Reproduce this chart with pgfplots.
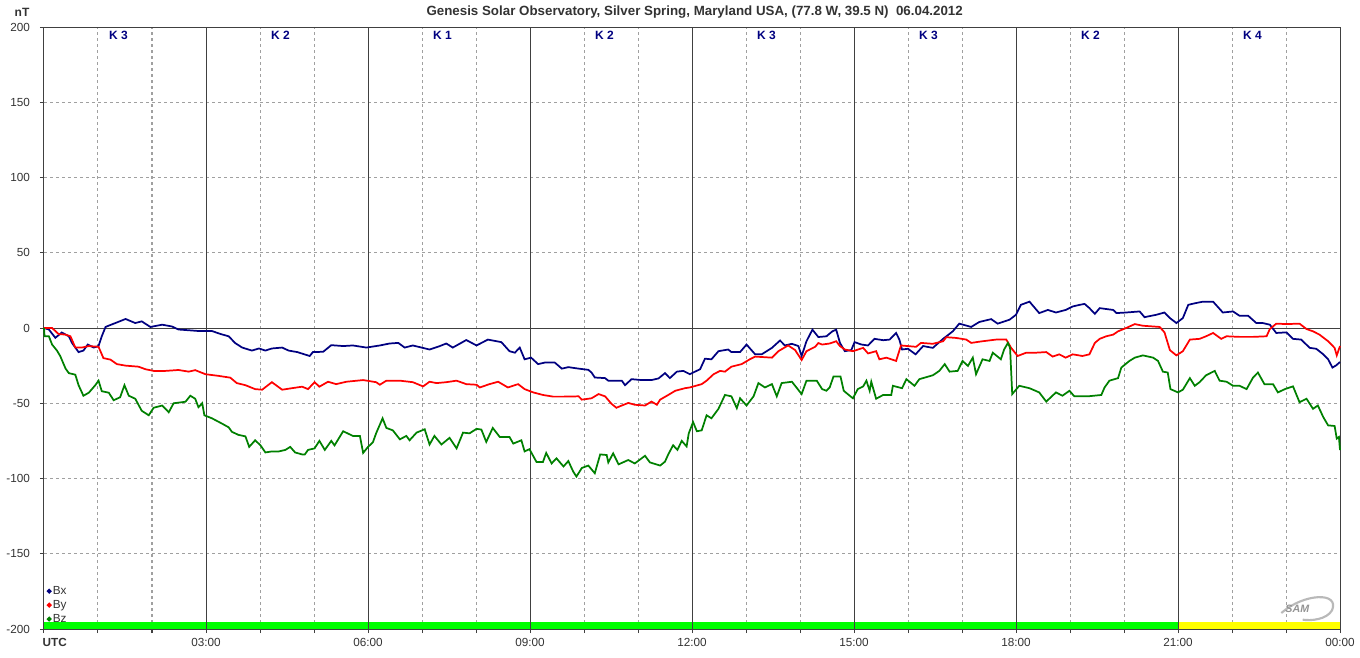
\documentclass[border=0pt]{standalone}
\usepackage{pgfplots}
\pgfplotsset{compat=1.18}
\usepackage{fontspec}
\setmainfont{Liberation Sans}
\definecolor{bxc}{HTML}{000080}
\definecolor{byc}{HTML}{FF0000}
\definecolor{bzc}{HTML}{008000}
\definecolor{gridc}{HTML}{A0A0A0}
\definecolor{axc}{HTML}{404040}
\definecolor{barg}{HTML}{00FF00}
\definecolor{bary}{HTML}{FFFF00}
\begin{document}
\begin{tikzpicture}
\path[use as bounding box] (-33pt,-21pt) rectangle (987pt,471.75pt);
\begin{axis}[
  width=972pt, height=451.5pt, scale only axis,
  xmin=0, xmax=24, ymin=-200, ymax=200,
  axis line style={draw=axc, line width=0.75pt},
  xtick={0,3,...,24},
  xticklabels={\makebox[0pt][l]{\hspace{-1pt}\bfseries UTC},03:00,06:00,09:00,12:00,15:00,18:00,21:00,00:00},
  minor xtick={1,2,4,5,7,8,10,11,13,14,16,17,19,20,22,23},
  ytick={-200,-150,...,200},
  yticklabels={-200,-150,-100,-50,0,50,100,150,200},
  tick align=outside, xtick pos=bottom, ytick pos=left,
  major tick length=3pt, minor tick length=3pt,
  tick style={draw=axc, line width=0.75pt},
  ymajorgrids, xminorgrids,
  major grid style={draw=gridc, line width=0.75pt, dash pattern=on 2.25pt off 2.25pt},
  minor grid style={draw=gridc, line width=0.75pt, dash pattern=on 2.25pt off 2.25pt},
  ticklabel style={font=\fontsize{8.8}{10}\selectfont, text=black!80},
  yticklabel style={xshift=-4pt},
  xticklabel style={yshift=-0.5pt},
  clip=false,
  legend style={at={(0.002,0.0055)}, anchor=south west, draw=none, fill=none,
    font=\fontsize{8.8}{10}\selectfont, row sep=0.9pt, inner sep=0pt,
    nodes={inner sep=1pt, text=black!80}},
  legend cell align=left,
  legend image code/.code={\fill (0.09cm,0cm) circle (1.1pt);},
]
% status bar
\addplot[draw=none, fill=barg, forget plot] coordinates {(0,-200)(0,-195.3)(21,-195.3)(21,-200)} -- cycle;
\addplot[draw=none, fill=bary, forget plot] coordinates {(21,-200)(21,-195.3)(24,-195.3)(24,-200)} -- cycle;
% 3-hour solid lines and zero line
\pgfplotsinvokeforeach{3,6,9,12,15,18,21}{\draw[axc, line width=0.75pt] (axis cs:#1,-200) -- (axis cs:#1,200);}
\draw[axc, line width=0.75pt] (axis cs:0,0) -- (axis cs:24,0);
% K indices
\node[text=bxc, font=\bfseries\fontsize{9}{10}\selectfont] at (axis cs:1.38,194.4) {K 3};
\node[text=bxc, font=\bfseries\fontsize{9}{10}\selectfont] at (axis cs:4.38,194.4) {K 2};
\node[text=bxc, font=\bfseries\fontsize{9}{10}\selectfont] at (axis cs:7.38,194.4) {K 1};
\node[text=bxc, font=\bfseries\fontsize{9}{10}\selectfont] at (axis cs:10.38,194.4) {K 2};
\node[text=bxc, font=\bfseries\fontsize{9}{10}\selectfont] at (axis cs:13.38,194.4) {K 3};
\node[text=bxc, font=\bfseries\fontsize{9}{10}\selectfont] at (axis cs:16.38,194.4) {K 3};
\node[text=bxc, font=\bfseries\fontsize{9}{10}\selectfont] at (axis cs:19.38,194.4) {K 2};
\node[text=bxc, font=\bfseries\fontsize{9}{10}\selectfont] at (axis cs:22.38,194.4) {K 4};
% Bx
\addplot[color=bxc, line width=1.3pt] coordinates {
(0,0)(0.09,-1)(0.21,-6.5)(0.33,-3)(0.46,-5.5)(0.52,-10)(0.64,-16)(0.73,-15)(0.81,-11)(0.92,-13)(1.01,-12)(1.07,-5.5)(1.14,0.7)(1.23,2)(1.35,3.7)(1.51,6)(1.69,3.3)(1.81,4.4)(1.97,0.7)(2.19,2.2)(2.37,1)(2.49,-1)(2.68,-1.5)(2.86,-2)(3.11,-2)(3.27,-4)(3.42,-5.5)(3.54,-10)(3.67,-13)(3.85,-15)(3.98,-13.6)(4.10,-15)(4.22,-13.6)(4.41,-13)(4.53,-15)(4.69,-16)
(4.92,-18.6)(4.98,-16)(5.17,-15.8)(5.32,-11.4)(5.54,-12)(5.72,-11.6)(5.97,-13)(6.22,-11.6)(6.40,-10.3)(6.56,-9.9)(6.68,-13)(6.83,-11.6)(7.14,-14.3)(7.33,-12)(7.45,-10.3)(7.57,-13)(7.82,-8)(8.01,-11.6)(8.22,-7.7)(8.47,-9.4)(8.62,-15.4)(8.72,-16.4)(8.81,-13)(8.90,-20.8)(9.02,-19.7)(9.15,-24)(9.27,-23)(9.46,-23)
(9.59,-27)(9.71,-26)(9.90,-27)(10.08,-27.8)(10.14,-29.6)(10.20,-32.9)(10.39,-33.3)(10.45,-35)(10.70,-35)(10.76,-38)(10.88,-34)(11.07,-34.6)(11.25,-34.6)(11.38,-33.5)(11.50,-30)(11.59,-33.3)(11.72,-29)(11.84,-28.5)(11.96,-30.7)(12.02,-29.6)(12.15,-27.4)(12.24,-20.4)(12.36,-20.8)(12.49,-15.4)(12.67,-14.3)(12.73,-16)(12.89,-16)(13.01,-11)(13.17,-17.5)(13.29,-17.5)(13.48,-13.2)(13.63,-8.3)(13.72,-11.6)(13.85,-10.5)(13.97,-12)(14.03,-18.6)(14.12,-8.8)(14.23,-1.1)(14.34,-6)
(14.49,-5.5)(14.60,-2.2)(14.67,-1.1)(14.74,-9.9)(14.83,-15.4)(14.95,-14.7)(15.01,-9.4)(15.14,-11)(15.26,-11.6)(15.38,-7.2)(15.54,-8.1)(15.66,-7.7)(15.78,-3.3)(15.84,-7.7)(15.89,-14.3)(16.00,-13.8)(16.14,-17.5)(16.28,-12)(16.46,-13.2)(16.65,-7.2)(16.83,-2.2)(16.95,2.9)(17.17,0.7)(17.32,4)(17.54,5.9)(17.66,2.9)(17.88,5.5)(18.00,8.8)(18.09,15.4)(18.25,17.5)(18.43,9.9)(18.59,12)(18.74,10.3)(18.92,12)(19.05,14.3)
(19.18,15.4)(19.27,16)(19.36,13.2)(19.46,9.4)(19.55,13.2)(19.80,12)(19.86,9.9)(20.04,10.3)(20.29,11)(20.38,7.2)(20.60,8.8)(20.75,10.3)(20.85,6.6)(20.97,3.3)(21.09,6.6)(21.19,15.4)(21.31,16.4)(21.46,17.5)(21.65,17.5)(21.83,10.3)(22.02,11)(22.14,8.1)(22.30,8.1)(22.45,3.3)(22.57,3.3)(22.70,2.2)(22.82,-3.3)(23.01,-2.9)(23.13,-7.2)(23.28,-7.7)(23.44,-13.2)(23.56,-13.8)(23.69,-17.5)(23.78,-20.8)(23.86,-26.3)(23.93,-24.8)(24,-22.6)
};
\addlegendentry{Bx}
% By
\addplot[color=byc, line width=1.3pt] coordinates {
(0,0)(0.15,0)(0.27,-4)(0.40,-4.4)(0.49,-5.5)(0.58,-13)(0.70,-13)(0.83,-12)(1.01,-12.5)(1.10,-20)(1.23,-21)(1.35,-24)(1.51,-25)(1.75,-25.7)(1.88,-27.4)(2.03,-28.5)(2.25,-28.5)(2.49,-27.9)(2.68,-29)(2.80,-28)(2.99,-30.7)(3.23,-31.8)(3.45,-33)(3.57,-36.6)(3.73,-38)(3.91,-40.6)(4.04,-41)(4.22,-36)(4.41,-41)(4.59,-40)(4.78,-39)
(4.89,-40.6)(5.01,-36)(5.10,-39)(5.26,-35.7)(5.41,-37.3)(5.60,-35.7)(5.91,-34.6)(6.15,-36)(6.22,-37.7)(6.34,-35)(6.59,-35)(6.83,-36)(7.02,-38.8)(7.14,-35.7)(7.27,-36.6)(7.45,-36)(7.64,-35)(7.82,-37.3)(8.01,-37.7)(8.07,-39.5)(8.25,-37.3)(8.41,-35.7)(8.59,-39.5)(8.78,-37.3)(8.90,-40.6)(9.06,-42.8)(9.24,-44.5)(9.43,-45.6)(9.62,-45.6)
(9.90,-45.4)(9.96,-47.6)(10.14,-46.7)(10.27,-43.9)(10.39,-45.4)(10.51,-50.4)(10.60,-53)(10.70,-51.5)(10.82,-49.8)(10.94,-51)(11.13,-51.5)(11.25,-48.9)(11.35,-51)(11.41,-47.6)(11.56,-44.5)(11.69,-41.7)(11.87,-40)(11.96,-39.5)(12.18,-37.3)(12.27,-35)(12.40,-30.7)(12.52,-28.5)(12.61,-29)(12.73,-25.7)(12.92,-24)(13.07,-20.8)(13.17,-19)(13.48,-19.7)(13.60,-15.4)(13.78,-11.6)(13.91,-14.7)(14.03,-21.3)(14.12,-15.4)(14.28,-12.5)(14.34,-10)(14.41,-11)
(14.55,-10.3)(14.67,-8.8)(14.74,-12)(14.83,-14.3)(14.98,-15.4)(15.17,-13.2)(15.26,-16.9)(15.41,-15.4)(15.47,-20.8)(15.60,-19.7)(15.78,-21.9)(15.87,-11.6)(16.15,-12.5)(16.24,-9.9)(16.46,-10.5)(16.65,-8.8)(16.71,-6.1)(16.89,-6.6)(17.08,-7.7)(17.17,-9.9)(17.38,-8.8)(17.63,-7.7)(17.82,-7.7)(17.91,-13.2)(18.03,-18.6)(18.19,-16.4)(18.37,-16.4)(18.56,-16)(18.68,-19)(18.80,-17.5)(18.92,-19.7)(19.05,-17.5)(19.23,-18.6)
(19.36,-17.5)(19.46,-9.9)(19.55,-7.2)(19.67,-5.5)(19.80,-4.4)(19.89,-2.2)(20.04,0)(20.20,2.6)(20.35,1.5)(20.66,0.7)(20.75,-2.9)(20.85,-14.7)(20.97,-18.2)(21.09,-15.4)(21.22,-7.7)(21.40,-7.2)(21.52,-5.5)(21.65,-3.3)(21.80,-7.2)(21.90,-5.5)(22.14,-5.9)(22.39,-5.9)(22.64,-5.5)(22.70,-0.7)(22.82,2.9)(23.01,2.6)(23.25,2.9)(23.38,-0.7)(23.50,-2.2)(23.62,-4.4)(23.78,-8.8)(23.90,-13.2)(23.94,-18.2)(24,-12)
};
\addlegendentry{By}
% Bz
\addplot[color=bzc, line width=1.3pt] coordinates {
(0,0)(0.01,-5.5)(0.09,-5.5)(0.15,-11)(0.24,-15)(0.30,-18.6)(0.40,-27)(0.46,-30)(0.58,-31)(0.64,-38)(0.73,-45)(0.83,-43)(0.95,-38)(1.01,-35)(1.07,-42)(1.20,-43)(1.29,-48)(1.41,-46)(1.49,-38)(1.57,-45)(1.69,-47)(1.81,-55)(1.94,-58)(2.03,-53)(2.19,-51.5)(2.31,-56)(2.40,-50)(2.62,-49)(2.71,-45)(2.80,-47)(2.86,-52.6)(2.93,-50)(2.97,-58)(3.11,-60)(3.30,-63.6)(3.42,-66)(3.48,-69)(3.60,-71)(3.73,-72)(3.80,-79)(3.91,-74.6)(4.01,-78)(4.10,-82.7)(4.22,-82)(4.35,-82)(4.47,-81)(4.56,-79)(4.65,-82.7)(4.78,-84)
(4.83,-84)(4.89,-81)(5.01,-80)(5.10,-75)(5.20,-81)(5.32,-75)(5.38,-78)(5.54,-68.6)(5.72,-71.7)(5.85,-71.7)(5.91,-83)(6.00,-79)(6.09,-76)(6.15,-70)(6.27,-60)(6.34,-66.4)(6.46,-68)(6.59,-74)(6.71,-71.7)(6.77,-74.6)(6.90,-69.5)(7.05,-67.3)(7.14,-77.4)(7.23,-71.7)(7.36,-77.4)(7.51,-73)(7.64,-80)(7.76,-69.5)(7.88,-70)(8.01,-67)(8.10,-67.5)(8.19,-75.7)(8.31,-66.4)(8.44,-72.4)(8.62,-72.4)(8.69,-76.8)(8.84,-74.6)(8.90,-82)(8.99,-80.5)(9.12,-89)(9.24,-89)(9.30,-83)(9.40,-90)(9.49,-86.6)(9.62,-92)
(9.71,-88.4)(9.80,-95.4)(9.86,-98.7)(9.96,-93)(10.08,-91.4)(10.20,-96.5)(10.30,-84)(10.42,-84.4)(10.45,-89.3)(10.54,-83.3)(10.64,-90.6)(10.82,-87.7)(10.94,-90)(11.13,-84.9)(11.22,-89.3)(11.41,-91.4)(11.50,-88.8)(11.56,-84)(11.65,-77.9)(11.73,-81)(11.81,-75)(11.90,-78.7)(11.94,-70)(12.02,-62.5)(12.09,-68.6)(12.18,-68)(12.27,-58)(12.36,-60)(12.49,-53.7)(12.61,-44.5)(12.73,-45.4)(12.83,-53.3)(12.89,-46.7)(13.01,-51.5)(13.14,-45.4)(13.23,-36.6)(13.35,-39.5)(13.48,-37.3)(13.57,-45.4)(13.66,-36.6)(13.85,-35.7)(14.03,-43.9)(14.12,-35)(14.31,-35)(14.41,-40.6)
(14.49,-41.7)(14.55,-39.5)(14.62,-32.2)(14.75,-32.2)(14.81,-41.7)(14.92,-45)(14.98,-46.7)(15.07,-40.6)(15.17,-38.8)(15.23,-35)(15.29,-41.7)(15.32,-35.7)(15.41,-47)(15.54,-44.5)(15.69,-44.5)(15.72,-38.4)(15.89,-40)(15.97,-34)(16.12,-38.4)(16.21,-34)(16.46,-31.4)(16.58,-28.5)(16.68,-24)(16.77,-29)(16.92,-28.5)(17.01,-21.9)(17.11,-25.2)(17.20,-19.7)(17.26,-30.7)(17.38,-20.8)(17.51,-21.9)(17.57,-16.4)(17.72,-20.8)(17.78,-14.3)(17.85,-9.9)(17.89,-13.2)(17.93,-43.9)(18.06,-38.4)(18.25,-40)(18.43,-42.8)(18.56,-48.9)(18.74,-42.8)(18.86,-45)(18.99,-41.7)(19.08,-45.4)(19.20,-45.4)
(19.33,-45.4)(19.58,-44.5)(19.64,-39.5)(19.73,-35)(19.89,-33.3)(19.95,-26.3)(20.10,-21.9)(20.20,-19.7)(20.35,-18.2)(20.54,-19.7)(20.63,-21.9)(20.72,-29)(20.81,-29.6)(20.86,-40.6)(21.00,-42.8)(21.09,-41)(21.22,-33.3)(21.31,-38.4)(21.40,-36)(21.52,-31.4)(21.68,-28.5)(21.77,-35)(21.90,-35.7)(22.02,-38.4)(22.14,-38.4)(22.27,-40.6)(22.39,-32.9)(22.48,-29.6)(22.60,-37.3)(22.76,-37.3)(22.85,-42.8)(22.98,-40.6)(23.13,-38.8)(23.25,-49.3)(23.38,-47)(23.50,-53.7)(23.59,-51.5)(23.69,-59.2)(23.78,-64.7)(23.90,-65.1)(23.94,-73.5)(23.98,-72.4)(24,-81.1)
};
\addlegendentry{Bz}
\end{axis}
% title and unit
\node[font=\bfseries\fontsize{10}{11}\selectfont, text=black!80] at (488pt,462.4pt) {Genesis Solar Observatory, Silver Spring, Maryland USA, (77.8 W, 39.5 N)\ \ 06.04.2012};
\node[font=\bfseries\fontsize{9}{10}\selectfont, text=black!80] at (-16.5pt,462.2pt) {nT};
% SAM logo
\draw[gray!55, line width=1.6pt] (928pt,12pt) .. controls (945pt,27pt) and (972pt,28pt) .. (966pt,14pt) .. controls (962pt,7pt) and (950pt,6pt) .. (944pt,7pt);
\node[font=\bfseries\itshape\fontsize{8}{9}\selectfont, text=gray!85] at (940pt,15pt) {SAM};
\end{tikzpicture}
\end{document}
